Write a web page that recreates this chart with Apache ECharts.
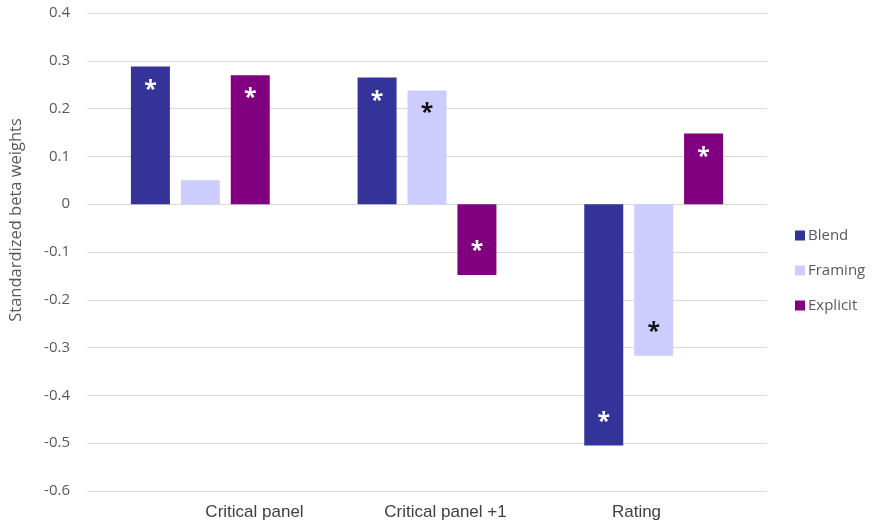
<!DOCTYPE html>
<html>
<head>
<meta charset="utf-8">
<script src="https://cdn.jsdelivr.net/npm/echarts@6/dist/echarts.min.js"></script>
<style>
  html, body { margin: 0; padding: 0; background: #ffffff; }
  #chart { width: 873px; height: 525px; }
</style>
</head>
<body>
<div id="chart"></div>
<script>
// Category and series values
const categories = ['Critical panel', 'Critical panel +1', 'Rating'];
const seriesNames = ['Blend', 'Framing', 'Explicit'];
const blend = [0.288, 0.265, -0.505];
const framing = [0.050, 0.238, -0.317];
const explicit = [0.270, -0.148, 0.148];
// significance markers per bar (true = starred)
const blendSig = [true, true, true];
const framingSig = [false, true, true];
const explicitSig = [true, true, true];
const yTicks = { min: -0.6, max: 0.4, interval: 0.1 };

const colors = ['#333399', '#ccccff', '#800080'];
const starColors = ['#ffffff', '#111111', '#ffffff'];
const font = "'Segoe UI', 'Open Sans', 'Liberation Sans', sans-serif";
const catFont = "Arial, 'Liberation Sans', sans-serif";

function buildData(values, sig, starColor) {
  return values.map((v, i) => ({
    value: v,
    label: {
      show: sig[i],
      position: v >= 0 ? 'insideTop' : 'insideBottom',
      distance: 12,
      formatter: '*',
      color: starColor,
      fontSize: 23,
      fontFamily: font,
      fontWeight: 'bold'
    }
  }));
}

const chart = echarts.init(document.getElementById('chart'), null, { renderer: 'canvas' });
chart.setOption({
  animation: false,
  backgroundColor: '#ffffff',
  textStyle: { fontFamily: font },
  grid: [
    { left: 84, right: 106, top: 13, bottom: 34 },
    { left: 159, right: 141, top: 13, bottom: 34 }
  ],
  legend: {
    orient: 'vertical',
    left: 790,
    top: 223,
    itemWidth: 10,
    itemHeight: 10,
    itemGap: 20,
    icon: 'rect',
    data: seriesNames,
    textStyle: { color: '#595959', fontSize: 15, fontFamily: font, padding: [0, 0, 0, -2] }
  },
  xAxis: [
    {
      type: 'category',
      gridIndex: 0,
      data: categories,
      axisLine: { show: false },
      axisTick: { show: false },
      axisLabel: { show: false }
    },
    {
      type: 'category',
      gridIndex: 1,
      data: categories,
      axisLine: { show: false },
      axisTick: { show: false },
      axisLabel: { color: '#404040', fontSize: 17, margin: 13, fontFamily: catFont }
    }
  ],
  yAxis: [
    {
      type: 'value',
      gridIndex: 0,
      min: yTicks.min,
      max: yTicks.max,
      interval: yTicks.interval,
      name: 'Standardized beta weights',
      nameLocation: 'middle',
      nameGap: 62,
      nameTextStyle: { color: '#595959', fontSize: 16.5, fontFamily: font, padding: [0, 0, 0, 64] },
      axisLine: { show: false },
      axisTick: { show: false },
      splitLine: { lineStyle: { color: '#d9d9d9', width: 1 } },
      axisLabel: {
        color: '#595959',
        fontSize: 15,
        margin: 17,
        fontFamily: font,
        formatter: v => {
          const r = Math.round(v * 10) / 10;
          return r === 0 ? '0' : r.toFixed(1);
        }
      }
    },
    {
      type: 'value',
      gridIndex: 1,
      min: yTicks.min,
      max: yTicks.max,
      interval: yTicks.interval,
      show: false
    }
  ],
  series: [
    {
      name: seriesNames[0], type: 'bar', xAxisIndex: 0, yAxisIndex: 0,
      barWidth: 39, barGap: '28%',
      itemStyle: { color: colors[0] },
      data: buildData(blend, blendSig, starColors[0])
    },
    {
      name: seriesNames[1], type: 'bar', xAxisIndex: 0, yAxisIndex: 0,
      barWidth: 39, barGap: '28%',
      itemStyle: { color: colors[1] },
      data: buildData(framing, framingSig, starColors[1])
    },
    {
      name: seriesNames[2], type: 'bar', xAxisIndex: 0, yAxisIndex: 0,
      barWidth: 39, barGap: '28%',
      itemStyle: { color: colors[2] },
      data: buildData(explicit, explicitSig, starColors[2])
    }
  ]
});
</script>
</body>
</html>
